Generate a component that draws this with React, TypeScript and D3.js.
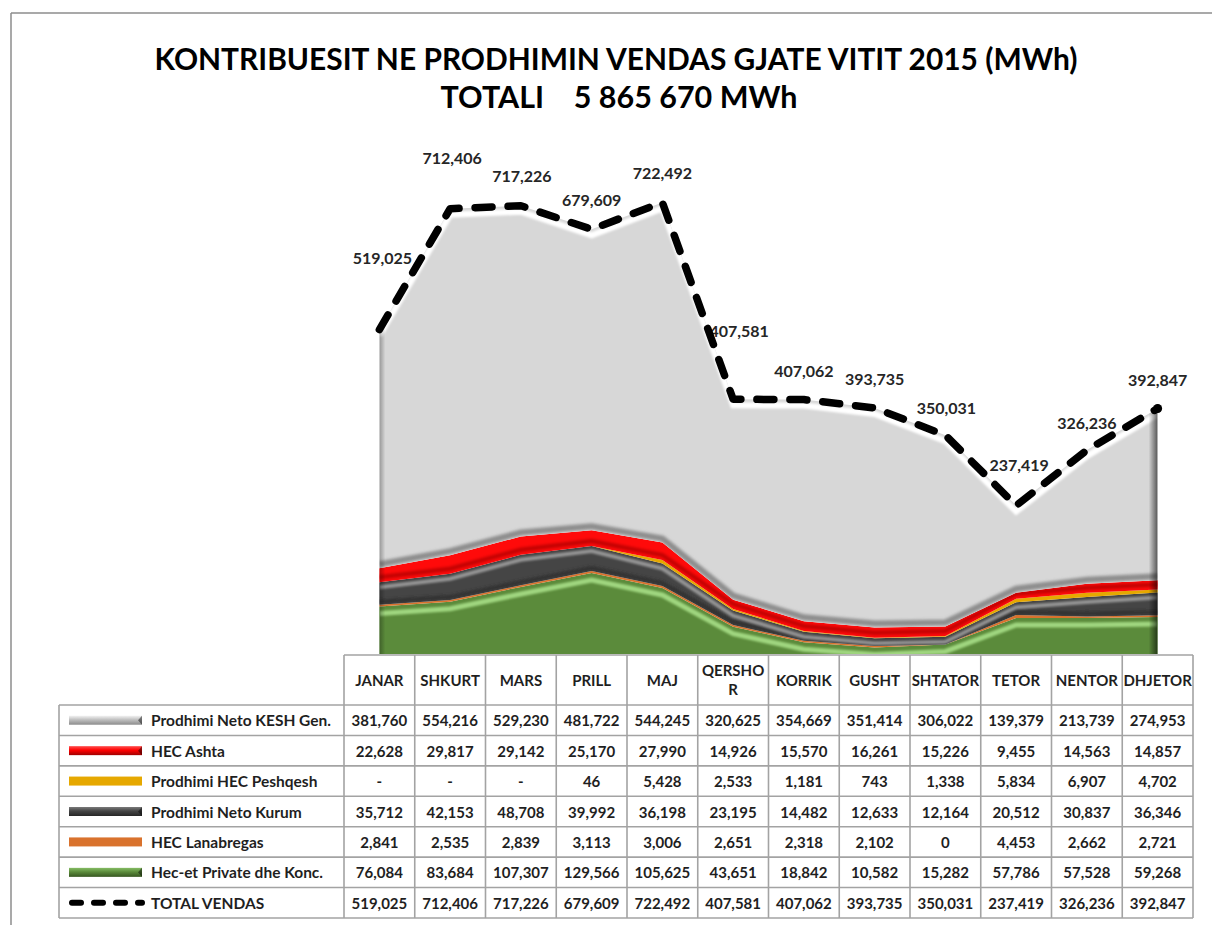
import React from "react";
import * as d3 from "d3";

// ---------- DATA ----------
const months = ["JANAR", "SHKURT", "MARS", "PRILL", "MAJ", "QERSHOR", "KORRIK", "GUSHT", "SHTATOR", "TETOR", "NENTOR", "DHJETOR"];
const keshGen = [381760, 554216, 529230, 481722, 544245, 320625, 354669, 351414, 306022, 139379, 213739, 274953];
const hecAshta = [22628, 29817, 29142, 25170, 27990, 14926, 15570, 16261, 15226, 9455, 14563, 14857];
const hecPeshqesh: (number | null)[] = [null, null, null, 46, 5428, 2533, 1181, 743, 1338, 5834, 6907, 4702];
const netoKurum = [35712, 42153, 48708, 39992, 36198, 23195, 14482, 12633, 12164, 20512, 30837, 36346];
const hecLanabregas = [2841, 2535, 2839, 3113, 3006, 2651, 2318, 2102, 0, 4453, 2662, 2721];
const hecPrivate = [76084, 83684, 107307, 129566, 105625, 43651, 18842, 10582, 15282, 57786, 57528, 59268];
const totalVendas = [519025, 712406, 717226, 679609, 722492, 407581, 407062, 393735, 350031, 237419, 326236, 392847];

const seriesLabels = [
  "Prodhimi Neto KESH Gen.",
  "HEC Ashta",
  "Prodhimi HEC Peshqesh",
  "Prodhimi Neto Kurum",
  "HEC Lanabregas",
  "Hec-et Private dhe Konc.",
  "TOTAL VENDAS",
];
const titleLine1 = "KONTRIBUESIT NE PRODHIMIN VENDAS GJATE VITIT 2015 (MWh)";
const titleLine2 = "TOTALI    5 865 670 MWh";

// ---------- LAYOUT (positions / styles) ----------
const W = 1212;
const H = 925;
const FONT = "Lato, 'Open Sans', 'DejaVu Sans', sans-serif";
const labelOffsets: [number, number][] = [
  [3, -72], [2, -51], [1, -30], [0, -30], [0, -30], [6, -69],
  [0, -29], [0, -29], [1, -28], [3, -41], [0, -28], [0, -29],
];

type LayerStyle = {
  key: string;
  fill: string;
  hi?: string; hiOff?: number; hiW?: number; hiOp?: number;
  sh?: string; shOff?: number; shW?: number; shOp?: number;
};

const layerStyles: LayerStyle[] = [
  { key: "private", fill: "#5b8b3b", hi: "#a3da83", hiOff: 7, hiW: 5, hiOp: 0.95, sh: "#3a5f25", shOff: -3, shW: 5, shOp: 0.9 },
  { key: "lanabregas", fill: "#d9722d" },
  { key: "kurum", fill: "#454545", hi: "#9c9c9c", hiOff: 5, hiW: 4, hiOp: 0.9, sh: "#2a2a2a", shOff: -3, shW: 4, shOp: 0.8 },
  { key: "peshqesh", fill: "#e6a800" },
  { key: "ashta", fill: "#ff0a0a", sh: "#b30000", shOff: -5, shW: 4, shOp: 0.85 },
  { key: "kesh", fill: "#d7d7d7", hi: "#ffffff", hiOff: 6, hiW: 6, hiOp: 1, sh: "#7a7a7a", shOff: -4, shW: 6, shOp: 0.8 },
];

export default function App() {
  const x = d3.scaleBand<string>().domain(months).range([344, 1193]).paddingInner(0).paddingOuter(0);
  const bw = x.bandwidth();
  const cx = (m: string) => (x(m) as number) + bw / 2;
  const y = d3.scaleLinear().domain([0, 800000]).range([654, 154]);

  const rows = months.map((m, i) => ({
    month: m,
    private: hecPrivate[i],
    lanabregas: hecLanabregas[i],
    kurum: netoKurum[i],
    peshqesh: hecPeshqesh[i] ?? 0,
    ashta: hecAshta[i],
    kesh: keshGen[i],
  }));
  const keys = layerStyles.map((s) => s.key);
  const stacked = d3.stack<any>().keys(keys)(rows);

  const area = d3.area<any>().x((d) => cx(d.data.month)).y0((d) => y(d[0])).y1((d) => y(d[1]));
  const topLine = d3.line<any>().x((d) => cx(d.data.month)).y((d) => y(d[1]));
  const botLine = d3.line<any>().x((d) => cx(d.data.month)).y((d) => y(d[0]));
  const totalArea = d3.area<number>().x((_, i) => cx(months[i])).y0(y(0)).y1((d) => y(d));
  const totalLine = d3.line<number>().x((_, i) => cx(months[i])).y((d) => y(d));

  const fmt = d3.format(",");
  const tableTop = 655;
  const headerBottom = 705;
  const tableBottom = 918;
  const rowH = (tableBottom - headerBottom) / 7;
  const legendLeft = 59;
  const tableLeft = 344;
  const tableRight = 1193;
  const gridColor = "#a3a3a3";

  const tableRows: (number | null)[][] = [keshGen, hecAshta, hecPeshqesh, netoKurum, hecLanabregas, hecPrivate, totalVendas];
  const fmtCell = (v: number | null) => (v === null ? "-" : fmt(v));
  const headerLines = (m: string) => (m === "QERSHOR" ? ["QERSHO", "R"] : [m]);

  const iconX0 = 69;
  const iconX1 = 142;
  const iconGrads = [
    { id: "ic0", c: ["#f2f2f2", "#bfbfbf", "#8c8c8c"] },
    { id: "ic1", c: ["#ff5050", "#ff0000", "#a00000"] },
    { id: "ic2", c: ["#e6a800", "#e6a800", "#e6a800"] },
    { id: "ic3", c: ["#7a7a7a", "#454545", "#262626"] },
    { id: "ic4", c: ["#d9722d", "#d9722d", "#d9722d"] },
    { id: "ic5", c: ["#86bd64", "#5b8b3b", "#36561f"] },
  ];
  const plotL = cx(months[0]);
  const plotR = cx(months[months.length - 1]);

  return (
    <div style={{ position: "absolute", left: 0, top: 0, width: W, height: H, background: "#fff" }}>
      <svg width={W} height={H} style={{ display: "block" }} fontFamily={FONT}>
        <defs>
          <filter id="blur" x="-5%" y="-50%" width="110%" height="200%">
            <feGaussianBlur stdDeviation="1.6" />
          </filter>
          <filter id="blurS" x="-5%" y="-50%" width="110%" height="200%">
            <feGaussianBlur stdDeviation="0.9" />
          </filter>
          {stacked.map((s, i) => (
            <clipPath id={`clip${i}`} key={i}>
              <path d={area(s as any) as string} />
            </clipPath>
          ))}
          <clipPath id="clipAll">
            <path d={totalArea(totalVendas) as string} />
          </clipPath>
          <linearGradient id="rightEdge" x1="0" x2="1" y1="0" y2="0">
            <stop offset="0" stopColor="#000" stopOpacity="0" />
            <stop offset="1" stopColor="#000" stopOpacity="0.6" />
          </linearGradient>
          <linearGradient id="leftEdge" x1="0" x2="1" y1="0" y2="0">
            <stop offset="0" stopColor="#000" stopOpacity="0.3" />
            <stop offset="1" stopColor="#000" stopOpacity="0" />
          </linearGradient>
          {iconGrads.map((g) => (
            <linearGradient id={g.id} key={g.id} x1="0" x2="0" y1="0" y2="1">
              <stop offset="0" stopColor={g.c[0]} />
              <stop offset="0.45" stopColor={g.c[1]} />
              <stop offset="1" stopColor={g.c[2]} />
            </linearGradient>
          ))}
        </defs>

        {/* outer border */}
        <line x1={11} y1={13} x2={W} y2={13} stroke="#8c8c8c" strokeWidth={1.5} />
        <line x1={11} y1={13} x2={11} y2={H} stroke="#8c8c8c" strokeWidth={1.5} />

        {/* title */}
        <text x={616} y={70} textAnchor="middle" fontSize={30} fontWeight={700} fill="#000"
          textLength={923} lengthAdjust="spacingAndGlyphs">{titleLine1}</text>
        <text x={619} y={108} textAnchor="middle" fontSize={30} fontWeight={700} fill="#000"
          textLength={357} lengthAdjust="spacingAndGlyphs" style={{ whiteSpace: "pre" }}>{titleLine2}</text>

        {/* stacked areas with bevel-like shading */}
        {stacked.map((s, i) => {
          const st = layerStyles[i];
          return (
            <g key={st.key}>
              <path d={area(s as any) as string} fill={st.fill} />
              <g clipPath={`url(#clip${i})`}>
                {st.sh && (
                  <path d={botLine(s as any) as string} transform={`translate(0,${st.shOff})`} fill="none"
                    stroke={st.sh} strokeWidth={st.shW} strokeOpacity={st.shOp} filter="url(#blur)" />
                )}
                {st.hi && (
                  <path d={topLine(s as any) as string} transform={`translate(0,${st.hiOff})`} fill="none"
                    stroke={st.hi} strokeWidth={st.hiW} strokeOpacity={st.hiOp} filter="url(#blurS)" />
                )}
              </g>
            </g>
          );
        })}
        <g clipPath="url(#clipAll)">
          <rect x={plotR - 9} y={0} width={9} height={H} fill="url(#rightEdge)" />
          <rect x={plotL} y={0} width={6} height={H} fill="url(#leftEdge)" />
        </g>

        {/* data labels */}
        {totalVendas.map((v, i) => (
          <text key={i} x={cx(months[i]) + labelOffsets[i][0]} y={y(v) + labelOffsets[i][1]}
            textAnchor="middle" dominantBaseline="central" fontSize={16} fontWeight={700} fill="#262626">
            {fmt(v)}
          </text>
        ))}

        {/* total line */}
        <path d={totalLine(totalVendas) as string} fill="none" stroke="#000" strokeWidth={7.5}
          strokeDasharray="17 16" strokeLinecap="round" strokeLinejoin="round" />
        <circle cx={plotR} cy={y(totalVendas[totalVendas.length - 1])} r={4.5} fill="#000" />

        {/* data table grid */}
        <g stroke={gridColor} strokeWidth={1.6}>
          <line x1={tableLeft} y1={tableTop} x2={tableRight} y2={tableTop} />
          {d3.range(8).map((r) => (
            <line key={`h${r}`} x1={legendLeft} y1={headerBottom + r * rowH} x2={tableRight} y2={headerBottom + r * rowH} />
          ))}
          <line x1={legendLeft} y1={headerBottom} x2={legendLeft} y2={tableBottom} />
          {months.map((m) => (
            <line key={`v${m}`} x1={x(m)} y1={tableTop} x2={x(m)} y2={tableBottom} />
          ))}
          <line x1={tableRight} y1={tableTop} x2={tableRight} y2={tableBottom} />
        </g>

        {/* header labels */}
        {months.map((m) => {
          const lines = headerLines(m);
          return (
            <text key={`hd${m}`} x={cx(m)} textAnchor="middle" fontSize={15} fontWeight={700} fill="#1f1f1f">
              {lines.map((ln, k) => (
                <tspan key={k} x={cx(m)} y={(tableTop + headerBottom) / 2 + 5.5 + (k - (lines.length - 1) / 2) * 19}>
                  {ln}
                </tspan>
              ))}
            </text>
          );
        })}

        {/* legend + values */}
        {tableRows.map((vals, r) => {
          const yc = headerBottom + rowH * (r + 0.5);
          return (
            <g key={`row${r}`}>
              {r < 6 ? (
                <g>
                  <rect x={iconX0} y={yc - 4.5} width={iconX1 - iconX0} height={9} fill={`url(#${iconGrads[r].id})`} />
                  {r !== 2 && r !== 4 && (
                    <path d={`M${iconX1},${yc - 4.5} L${iconX1 - 4},${yc} L${iconX1},${yc + 4.5} Z`} fill="#000" fillOpacity={0.45} />
                  )}
                </g>
              ) : (
                <line x1={iconX0 + 3} y1={yc} x2={iconX1} y2={yc} stroke="#000" strokeWidth={6}
                  strokeDasharray="9 13" strokeLinecap="round" />
              )}
              <text x={151} y={yc} dominantBaseline="central" fontSize={15.5} fontWeight={700} fill="#1f1f1f">
                {seriesLabels[r]}
              </text>
              {vals.map((v, i) => (
                <text key={i} x={cx(months[i])} y={yc} textAnchor="middle" dominantBaseline="central"
                  fontSize={15} fontWeight={700} fill="#1f1f1f">
                  {fmtCell(v)}
                </text>
              ))}
            </g>
          );
        })}
      </svg>
    </div>
  );
}
